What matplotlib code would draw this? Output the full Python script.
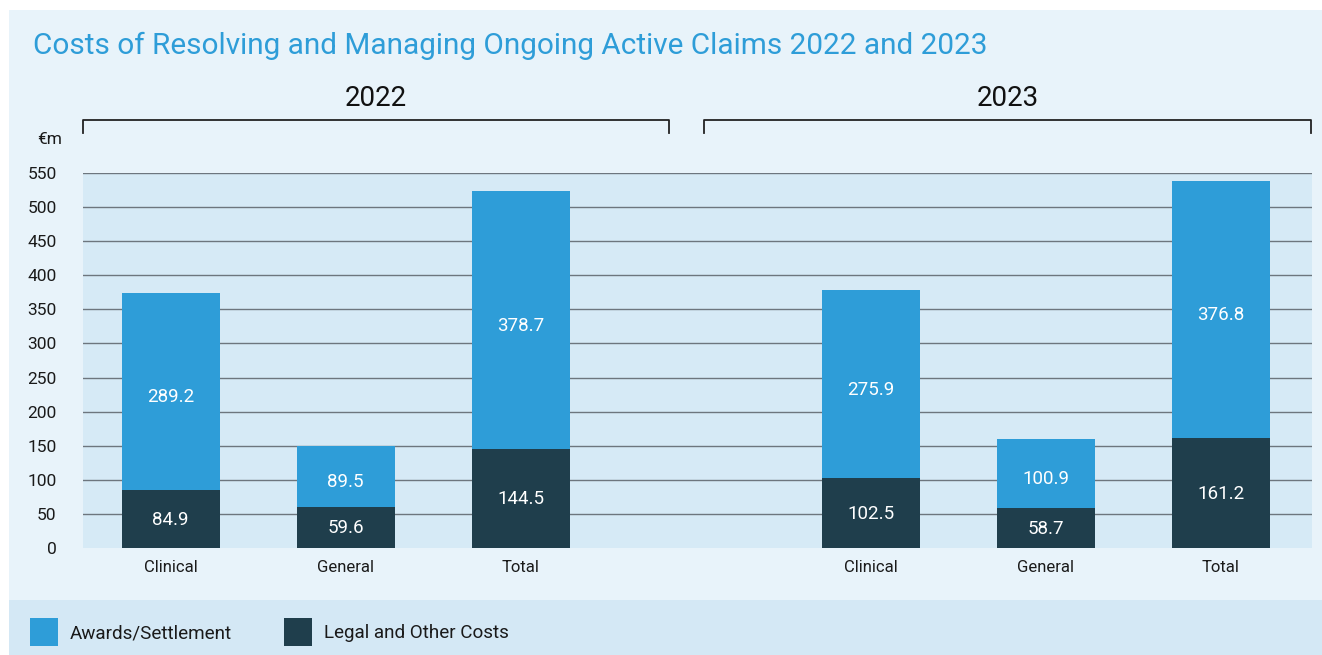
import matplotlib
matplotlib.use("Agg")
import matplotlib.pyplot as plt
from matplotlib.patches import Rectangle
from matplotlib.lines import Line2D
import numpy as np

plt.rcParams['font.family'] = ['Roboto', 'DejaVu Sans']

# Data (€m)
years = ["2022", "2023"]
categories = ["Clinical", "General", "Total"]
legal_2022 = [84.9, 59.6, 144.5]
awards_2022 = [289.2, 89.5, 378.7]
legal_2023 = [102.5, 58.7, 161.2]
awards_2023 = [275.9, 100.9, 376.8]
y_ticks = list(range(0, 551, 50))
series_names = ["Awards/Settlement", "Legal and Other Costs"]

C_AWARDS = "#2e9dd8"
C_LEGAL = "#1f3e4c"
C_PANEL = "#e8f3fa"
C_PLOT = "#d6eaf6"
C_STRIP = "#d4e8f5"
C_GRID = "#6d767e"
C_TITLE = "#2e9dd8"

W, H = 1322, 655
fig = plt.figure(figsize=(W / 100, H / 100), dpi=100, facecolor="white")

def fx(px):
    return px / W

def fy(py):
    return 1 - py / H

# background panel and legend strip
fig.patches.append(Rectangle((fx(9), 0), 1 - fx(9), fy(10), transform=fig.transFigure,
                             facecolor=C_PANEL, edgecolor="none", zorder=-10))
fig.patches.append(Rectangle((fx(9), 0), 1 - fx(9), fy(600), transform=fig.transFigure,
                             facecolor=C_STRIP, edgecolor="none", zorder=-9))

ax = fig.add_axes([fx(83), fy(548), fx(1312) - fx(83), fy(173) - fy(548)])
ax.set_facecolor(C_PLOT)

positions = [0, 1, 2, 4, 5, 6]
legal = legal_2022 + legal_2023
awards = awards_2022 + awards_2023
labels = categories + categories
width = 0.56

ax.bar(positions, legal, width=width, color=C_LEGAL, zorder=3)
ax.bar(positions, awards, width=width, bottom=legal, color=C_AWARDS, zorder=3)

for x, l, a in zip(positions, legal, awards):
    ax.text(x, l / 2 - 1, f"{l:.1f}", ha="center", va="center", color="white",
            fontsize=13.5, zorder=4)
    ax.text(x, l + a / 2 - 8, f"{a:.1f}", ha="center", va="center", color="white",
            fontsize=13.5, zorder=4)

for yv in y_ticks[1:]:
    ax.axhline(yv, color=C_GRID, lw=1.0, zorder=1)

ax.set_xlim(-0.5, 6.52)
ax.set_ylim(0, 550)
ax.set_yticks(y_ticks)
ax.set_yticklabels([str(v) for v in y_ticks], fontsize=12.5)
ax.set_xticks(positions)
ax.set_xticklabels(labels, fontsize=12)
ax.tick_params(axis="both", length=0, colors="#1a1a1a")
ax.tick_params(axis="y", pad=19)
ax.tick_params(axis="x", pad=9)
for s in ax.spines.values():
    s.set_visible(False)

# title and unit
fig.text(fx(33), fy(46), "Costs of Resolving and Managing Ongoing Active Claims 2022 and 2023",
         color=C_TITLE, fontsize=21.4, ha="left", va="center")
fig.text(fx(37), fy(139), "€m", fontsize=12.5, ha="left", va="center", color="#1a1a1a")

# year brackets
for (x0, x1), yr in zip([(83, 669), (704, 1311)], years):
    fig.lines.append(Line2D([fx(x0), fx(x0), fx(x1), fx(x1)],
                            [fy(133), fy(120), fy(120), fy(133)],
                            transform=fig.transFigure, color="#222222", lw=1.3))
    fig.text(fx((x0 + x1) / 2), fy(98), yr, fontsize=20, ha="center", va="center",
             color="#111111")

# legend
for (x0, tx), name, col in zip([(30, 70), (284, 324)], series_names, [C_AWARDS, C_LEGAL]):
    fig.patches.append(Rectangle((fx(x0), fy(646)), fx(28), 28 / H, transform=fig.transFigure,
                                 facecolor=col, edgecolor="none"))
    fig.text(fx(tx), fy(633), name, fontsize=13.6, ha="left", va="center", color="#1a1a1a")

fig.savefig("out.png", dpi=100, facecolor="white")
